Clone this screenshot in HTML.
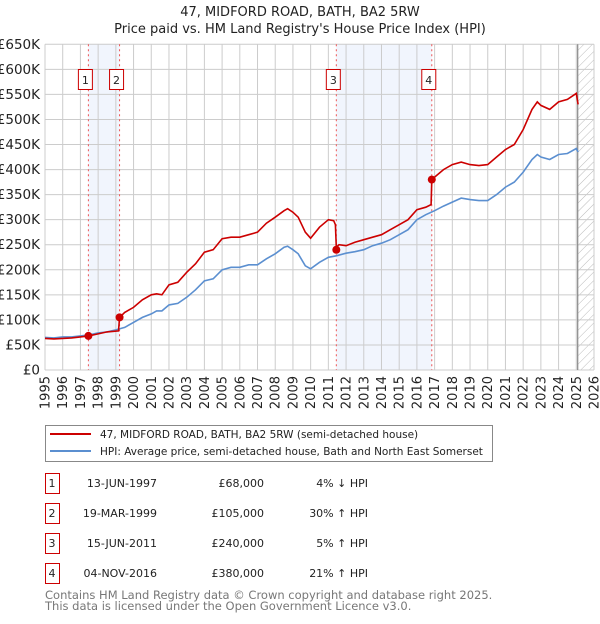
<!DOCTYPE html>
<html><head><meta charset="utf-8"><style>
body{margin:0;background:#fff;font-family:"DejaVu Sans","Liberation Sans",sans-serif;}
svg text{font-family:"DejaVu Sans","Liberation Sans",sans-serif;}
</style></head><body>
<svg id="c" width="600" height="620" xmlns="http://www.w3.org/2000/svg">
<defs><pattern id="hatch" width="6" height="6" patternUnits="userSpaceOnUse" patternTransform="rotate(45)"><line x1="0" y1="0" x2="0" y2="6" stroke="#bbb" stroke-width="1"/></pattern></defs>
<text x="300" y="16" text-anchor="middle" font-size="13" fill="#222">47, MIDFORD ROAD, BATH, BA2 5RW</text>
<text x="300" y="33" text-anchor="middle" font-size="13" fill="#222">Price paid vs. HM Land Registry's House Price Index (HPI)</text>
<g id="plot"></g>
<g>
<rect x="45.5" y="425.5" width="447" height="36" fill="#fff" stroke="#888"/>
<line x1="50" y1="434" x2="91" y2="434" stroke="#cc0000" stroke-width="2"/>
<text x="100" y="438" font-size="10.5" fill="#222">47, MIDFORD ROAD, BATH, BA2 5RW (semi-detached house)</text>
<line x1="50" y1="451" x2="91" y2="451" stroke="#5b8fd0" stroke-width="2"/>
<text x="100" y="455" font-size="10.5" fill="#222">HPI: Average price, semi-detached house, Bath and North East Somerset</text>
</g>
<g id="table"></g>
<text x="45" y="599" font-size="11.5" fill="#777">Contains HM Land Registry data © Crown copyright and database right 2025.</text>
<text x="45" y="610" font-size="11.5" fill="#777">This data is licensed under the Open Government Licence v3.0.</text>
</svg>
<script>
const hpiYears=[1995,1995.5,1996,1996.5,1997,1997.5,1998,1998.5,1999,1999.5,2000,2000.5,2001,2001.3,2001.6,2002,2002.5,2003,2003.5,2004,2004.5,2005,2005.5,2006,2006.5,2007,2007.5,2008,2008.5,2008.7,2009,2009.3,2009.7,2010,2010.5,2011,2011.45,2012,2012.5,2013,2013.5,2014,2014.5,2015,2015.5,2016,2016.5,2017,2017.5,2018,2018.5,2019,2019.5,2020,2020.5,2021,2021.5,2022,2022.5,2022.8,2023,2023.5,2024,2024.5,2025,2025.1];
const hpiValues=[65,64,66,66,68,70,74,76,80,85,95,105,112,118,118,130,133,145,160,178,182,200,205,205,210,210,222,232,245,247,240,232,208,202,215,225,228,233,236,240,248,253,260,270,280,300,310,318,327,335,343,340,338,338,350,365,375,395,420,430,425,420,430,432,442,435];
const priceYears=[1995,1995.5,1996,1996.5,1997,1997.45,1998,1998.5,1999.15,1999.21,1999.5,2000,2000.5,2001,2001.3,2001.6,2002,2002.5,2003,2003.5,2004,2004.5,2005,2005.5,2006,2006.5,2007,2007.5,2008,2008.5,2008.7,2009,2009.3,2009.7,2010,2010.5,2011,2011.3,2011.4,2011.45,2011.6,2012,2012.5,2013,2013.5,2014,2014.5,2015,2015.5,2016,2016.5,2016.8,2016.84,2017,2017.5,2018,2018.5,2019,2019.5,2020,2020.5,2021,2021.5,2022,2022.5,2022.8,2023,2023.5,2024,2024.5,2025,2025.1];
const priceValues=[63,62,63,64,66,68,72,76,78,105,115,125,140,150,152,150,170,175,195,212,235,240,262,265,265,270,275,293,305,318,322,315,305,275,263,285,300,298,290,245,250,248,255,260,265,270,280,290,300,320,325,330,380,385,400,410,415,410,408,410,425,440,450,480,520,535,528,520,535,540,552,530];
const saleYears=[1997.45,1999.21,2011.45,2016.84];
const saleValues=[68,105,240,380];
const saleLabels=["1","2","3","4"];
const saleDates=["13-JUN-1997","19-MAR-1999","15-JUN-2011","04-NOV-2016"];
const salePrices=["£68,000","£105,000","£240,000","£380,000"];
const saleHpi=["4% ↓ HPI","30% ↑ HPI","5% ↑ HPI","21% ↑ HPI"];
const yTicks=[0,50,100,150,200,250,300,350,400,450,500,550,600,650];
const yTickLabels=["£0","£50K","£100K","£150K","£200K","£250K","£300K","£350K","£400K","£450K","£500K","£550K","£600K","£650K"];
const xTicks=[1995,1996,1997,1998,1999,2000,2001,2002,2003,2004,2005,2006,2007,2008,2009,2010,2011,2012,2013,2014,2015,2016,2017,2018,2019,2020,2021,2022,2023,2024,2025,2026];
const dataEnd=2025.08;

const NS="http://www.w3.org/2000/svg";
const L=45,R=594,T=44.3,B=370;
const x=v=>L+(v-1995)/(2026-1995)*(R-L);
const y=v=>B-v/650*(B-T);
const plot=document.getElementById('plot');
function mk(tag,attrs,parent){const e=document.createElementNS(NS,tag);for(const k in attrs)e.setAttribute(k,attrs[k]);(parent||plot).appendChild(e);return e;}

for(let i=0;i<saleYears.length;i+=2){
  const r=mk('rect',{x:x(saleYears[i]),y:T,width:x(saleYears[i+1])-x(saleYears[i]),height:B-T,fill:'#eef3fc',opacity:0.8});
  
  
}
const h=mk('rect',{x:x(dataEnd),y:T,width:R-x(dataEnd),height:B-T,fill:'url(#hatch)'});


xTicks.forEach((t,i)=>{
  const g=mk('line',{x1:x(t),x2:x(t),y1:T,y2:B,stroke:'#ccc','stroke-width':1});
  
  
  const tx=mk('text',{x:0,y:0,'font-size':13,fill:'#222','text-anchor':'end',transform:`translate(${x(t)+4.5},${B+6}) rotate(-90)`});
  tx.textContent=t;
  
  
});
yTicks.forEach((t,i)=>{
  const g=mk('line',{x1:L,x2:R,y1:y(t),y2:y(t),stroke:'#ccc','stroke-width':1});
  
  
  const tx=mk('text',{x:L-5,y:y(t)+4.5,'font-size':13.5,fill:'#222','text-anchor':'end'});
  tx.textContent=yTickLabels[i];
  
  
});
const el=mk('line',{x1:x(dataEnd),x2:x(dataEnd),y1:T,y2:B,stroke:'#888','stroke-width':1.2});


saleYears.forEach((s,i)=>{
  const d=mk('line',{x1:x(s),x2:x(s),y1:T,y2:B,stroke:'#e55','stroke-width':1,'stroke-dasharray':'2,3'});
  
  
  const bx=mk('rect',{x:x(s)-10,y:69.5,width:14,height:20,fill:'#fff',stroke:'#c00'});
  
  
  const t=mk('text',{x:x(s)-3,y:84,'font-size':11,fill:'#222','text-anchor':'middle'});
  t.textContent=saleLabels[i];
  
  
});
function path(xs,vs){return xs.map((v,i)=>(i?'L':'M')+x(v).toFixed(1)+','+y(vs[i]).toFixed(1)).join('');}
const hp=mk('path',{d:path(hpiYears,hpiValues),fill:'none',stroke:'#5b8fd0','stroke-width':1.6});


const pp=mk('path',{d:path(priceYears,priceValues),fill:'none',stroke:'#cc0000','stroke-width':1.6});


saleYears.forEach((s,i)=>{
  const c=mk('circle',{cx:x(s),cy:y(saleValues[i]),r:4,fill:'#cc0000'});
  
  
});
const tb=document.getElementById('table');
saleLabels.forEach((lab,i)=>{
  const cy=483+i*30;
  const b=mk('rect',{x:45.5,y:cy-9.5,width:14,height:20,fill:'#fff',stroke:'#c00'},tb);
  
  
  const cols=[[52,'middle',lab,'table-row-number'],[157,'end',saleDates[i],'table-date'],[264,'end',salePrices[i],'table-price'],[368,'end',saleHpi[i],'table-hpi-diff']];
  cols.forEach(c=>{
    const t=mk('text',{x:c[0],y:cy+4,'font-size':11,fill:'#222','text-anchor':c[1]},tb);
    t.textContent=c[2];
    
    
  });
});
</script>
</body></html>
